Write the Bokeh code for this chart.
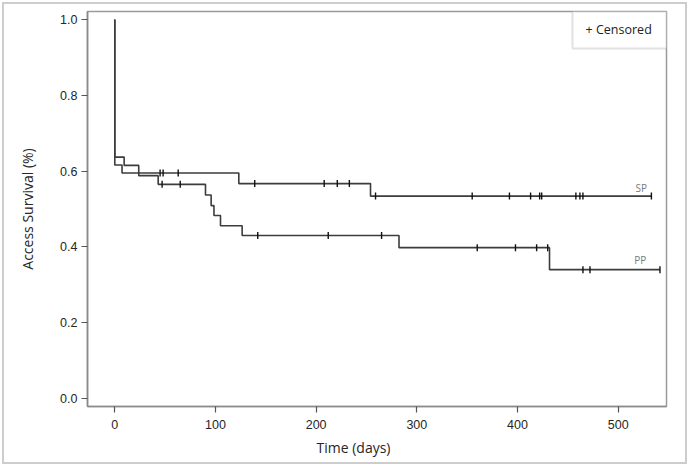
import numpy as np
from bokeh.plotting import figure
from bokeh.models import FixedTicker, Label, BoxAnnotation, Range1d, ColumnDataSource, Title
from bokeh.embed import file_html
from bokeh.resources import INLINE

# ---- data ----
sp_times = [0, 0, 7.2, 123.2, 254.0, 533.0]
sp_surv = [1.0, 0.616, 0.595, 0.567, 0.534, 0.534]
pp_times = [0, 0, 9.3, 23.8, 43.1, 90.1, 95.7, 98.5, 105.0, 126.5, 282.3, 431.8, 541.5]
pp_surv = [1.0, 0.637, 0.615, 0.588, 0.565, 0.537, 0.509, 0.483, 0.456, 0.430, 0.398, 0.340, 0.340]
sp_censored = [45, 48, 63, 139, 208, 221, 233, 259, 355, 392, 413, 422, 424, 458, 462, 465, 533]
pp_censored = [47, 65, 142, 212, 265, 360, 398, 419, 430, 465, 472, 541.5]
x_ticks = [0, 100, 200, 300, 400, 500]
y_ticks = [0.0, 0.2, 0.4, 0.6, 0.8, 1.0]
group_labels = ["SP", "PP"]


def surv_at(times, surv, t):
    idx = np.searchsorted(np.asarray(times), np.asarray(t), side="right") - 1
    return np.asarray(surv)[idx]


p = figure(width=685, height=462,
           x_range=Range1d(-27.1, 548), y_range=Range1d(-0.0211, 1.0211),
           output_backend="svg", toolbar_location=None,
           min_border_left=83, min_border_right=23, min_border_top=7, min_border_bottom=60)
p.styles = {"border": "2px solid #cdcdcd", "margin": "2px"}

p.xgrid.visible = False
p.ygrid.visible = False
p.outline_line_color = "#9a9a9a"
p.outline_line_width = 1.5
p.background_fill_color = "white"
p.border_fill_color = "white"

line_col = "#3c3c3c"
p.step(sp_times, sp_surv, mode="after", line_color=line_col, line_width=1.6)
p.step(pp_times, pp_surv, mode="after", line_color=line_col, line_width=1.6)

sp_c = ColumnDataSource(dict(x=sp_censored, y=surv_at(sp_times, sp_surv, sp_censored)))
pp_c = ColumnDataSource(dict(x=pp_censored, y=surv_at(pp_times, pp_surv, pp_censored)))
for src in (sp_c, pp_c):
    p.scatter("x", "y", source=src, marker="dash", angle=np.pi / 2, size=7,
              line_color="#111111", line_width=1.4)

# group labels at end of curves
p.add_layout(Label(x=523, y=0.556, text=group_labels[0], text_font="Open Sans",
                   text_font_size="10px", text_color="#7a7a7a", text_align="center",
                   text_baseline="middle"))
p.add_layout(Label(x=522, y=0.366, text=group_labels[1], text_font="Open Sans",
                   text_font_size="10px", text_color="#7a7a7a", text_align="center",
                   text_baseline="middle"))

# "+ Censored" key box
p.add_layout(BoxAnnotation(left=454.6, right=548, top=1.0211, bottom=0.9235,
                           fill_color="white", fill_alpha=1.0,
                           line_color="#9a9a9a", line_width=2))
p.add_layout(Label(x=500.5, y=0.974, text="+ Censored", text_font="Open Sans",
                   text_font_size="12.5px", text_color="#222222", text_align="center",
                   text_baseline="middle"))

# axes
for ax in (p.xaxis[0], p.yaxis[0]):
    ax.axis_line_color = "#8a8a8a"
    ax.axis_line_width = 1.6
    ax.major_tick_line_color = "#555555"
    ax.major_tick_line_width = 1.2
    ax.minor_tick_line_color = None
    ax.major_tick_in = 0
    ax.major_tick_out = 6
    ax.major_label_text_font = "Liberation Sans"
    ax.major_label_text_font_size = "12.5px"
    ax.major_label_text_color = "#262626"
    ax.axis_label_text_font = "Open Sans"
    ax.axis_label_text_font_size = "14px"
    ax.axis_label_text_font_style = "normal"
    ax.axis_label_text_color = "#262626"

p.xaxis.ticker = FixedTicker(ticks=x_ticks)
p.yaxis.ticker = FixedTicker(ticks=y_ticks)
p.yaxis.major_label_overrides = {v: f"{v:.1f}" for v in y_ticks}
p.xaxis.major_label_standoff = 7
p.yaxis.major_label_standoff = 4
p.yaxis.axis_label = "Access Survival (%)"
p.yaxis.axis_label_standoff = 20

# x-axis title, placed slightly left of the frame centre as in the reference
p.add_layout(Title(text="Time (days)", align="left", offset=229, standoff=9,
                   text_font="Open Sans", text_font_size="14px",
                   text_font_style="normal", text_color="#262626"), "below")

open("out.html", "w").write(file_html(p, INLINE))
